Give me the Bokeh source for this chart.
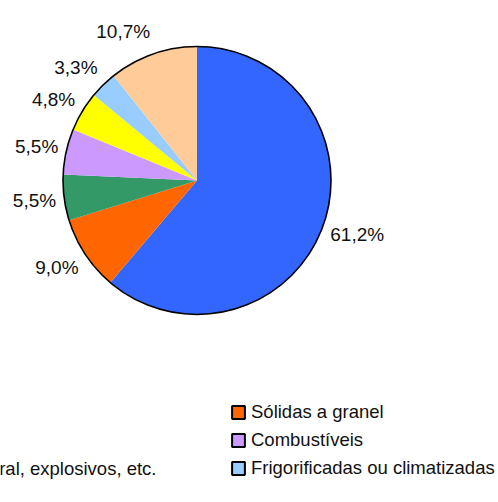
import math
from bokeh.plotting import figure
from bokeh.models import Range1d, Legend, LegendItem, ColumnDataSource
from bokeh.core.properties import value
from bokeh.embed import file_html
from bokeh.resources import INLINE

# ---- data ----
categories = ["Contentores", "Sólidas a granel", "Líquidos a granel", "Combustíveis",
              "Carga geral, explosivos, etc.", "Frigorificadas ou climatizadas", "Outras"]
shares = [61.2, 9.0, 5.5, 5.5, 4.8, 3.3, 10.7]
colors = ["#3366FF", "#FF6600", "#339966", "#CC99FF", "#FFFF00", "#99CCFF", "#FFCC99"]
legend_labels = ["Sólidas a granel", "Combustíveis", "Frigorificadas ou climatizadas"]
legend_colors = ["#FF6600", "#CC99FF", "#99CCFF"]
cut_label = "ral, explosivos, etc."

# ---- layout constants (pixels) ----
W, H = 498, 502
CX, CY, R = 196.5, 322.0, 134.0
LAB_DX, LAB_DY = 142.0, 158.0
FONT = "Liberation Sans"

p = figure(width=W, height=H, output_backend="svg", toolbar_location=None,
           x_range=Range1d(0, W), y_range=Range1d(0, H), min_border=0)
p.axis.visible = False
p.grid.visible = False
p.outline_line_color = None
p.background_fill_color = "white"
p.border_fill_color = "white"

total = sum(shares)
starts, ends, mids = [], [], []
acc = 0.0
for s in shares:
    a0 = acc / total * 2 * math.pi
    acc += s
    a1 = acc / total * 2 * math.pi
    starts.append(math.pi / 2 - a0)
    ends.append(math.pi / 2 - a1)
    mids.append((a0 + a1) / 2)

src = ColumnDataSource(dict(x=[CX] * len(shares), y=[CY] * len(shares),
                            start=starts, end=ends, color=colors, cat=categories))
p.wedge(x="x", y="y", radius=R, start_angle="start", end_angle="end",
        direction="clock", fill_color="color", line_color=None, source=src)
p.circle(x=[CX], y=[CY], radius=R, fill_color=None, line_color="black", line_width=1.6)

# percentage labels
lx, ly, lt, la = [], [], [], []
for s, m in zip(shares, mids):
    sx, cy_ = math.sin(m), math.cos(m)
    lx.append(CX + LAB_DX * sx)
    ly.append(CY + LAB_DY * cy_)
    lt.append(f"{s:.1f}".replace(".", ",") + "%")
    la.append("left" if sx > 0 else "right")
lsrc = ColumnDataSource(dict(x=lx, y=ly, t=lt, a=la))
p.text(x="x", y="y", text="t", text_align="a", text_baseline="middle",
       text_font=value(FONT), text_font_size="19px", text_color="#111111", source=lsrc)

# legend (right column visible)
nan = float("nan")
items = []
for lab, col in zip(legend_labels, legend_colors):
    r = p.quad(left=[nan], right=[nan], top=[nan], bottom=[nan], fill_color=col,
               line_color="black", line_width=2)
    items.append(LegendItem(label=lab, renderers=[r]))
ROW = 28
LEG_X, LEG_Y = 230, 20
legend = Legend(items=items, location=(LEG_X, LEG_Y), orientation="vertical",
                glyph_width=16, glyph_height=16, label_height=ROW, spacing=0,
                padding=0, margin=0, label_standoff=5, border_line_color=None,
                background_fill_alpha=0, label_text_font=FONT,
                label_text_font_size="18.5px", label_text_color="#111111")
p.add_layout(legend, "center")

# cut-off left column text (third row)
p.text(x=[156], y=[LEG_Y + ROW / 2], text=[cut_label], text_align="right",
       text_baseline="middle", text_font=value(FONT), text_font_size="18.5px",
       text_color="#111111")

open("out.html", "w").write(file_html(p, INLINE))
